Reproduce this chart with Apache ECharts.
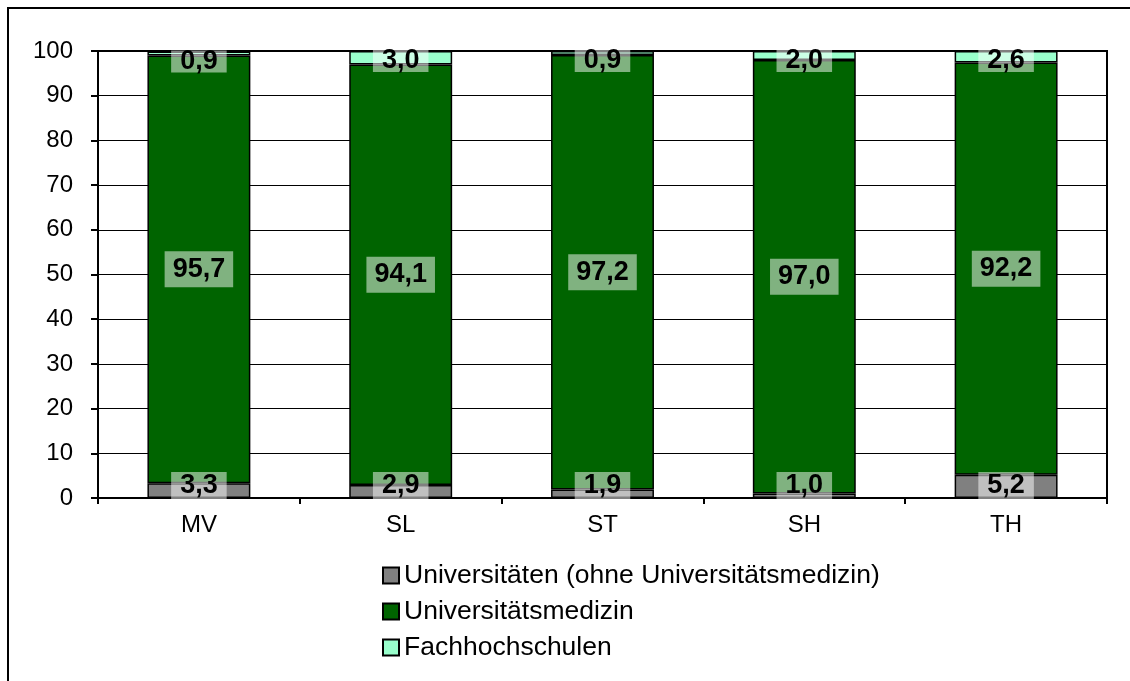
<!DOCTYPE html>
<html>
<head>
<meta charset="utf-8">
<script src="https://cdn.jsdelivr.net/npm/echarts@6/dist/echarts.min.js"></script>
<style>
html,body{margin:0;padding:0;background:#fff;}
#c{width:1130px;height:681px;}
</style>
</head>
<body>
<div id="c"></div>
<script>
const categories = ['MV', 'SL', 'ST', 'SH', 'TH'];
const universitaeten = [3.3, 2.9, 1.9, 1.0, 5.2];
const universitaetsmedizin = [95.7, 94.1, 97.2, 97.0, 92.2];
const fachhochschulen = [0.9, 3.0, 0.9, 2.0, 2.6];
const yTicks = [0, 10, 20, 30, 40, 50, 60, 70, 80, 90, 100];
const seriesNames = ['Universitäten (ohne Universitätsmedizin)', 'Universitätsmedizin', 'Fachhochschulen'];

const FONT = "'Liberation Sans', Arial, sans-serif";
const fmt = v => v.toFixed(1).replace('.', ',');

function labelStyle(pos, dist, lh, pad) {
  return {
    show: true,
    position: pos,
    distance: dist,
    formatter: p => fmt(p.value),
    fontFamily: FONT,
    fontWeight: 'bold',
    fontSize: 27,
    lineHeight: lh,
    color: '#000',
    backgroundColor: 'rgba(255,255,255,0.5)',
    padding: pad
  };
}

const chart = echarts.init(document.getElementById('c'), null, {renderer: 'canvas'});
chart.setOption({
  animation: false,
  backgroundColor: '#fff',
  textStyle: {fontFamily: FONT},
  graphic: [{
    type: 'rect', z: 100,
    shape: {x: 8, y: 8, width: 1200, height: 800},
    style: {fill: 'none', stroke: '#000', lineWidth: 2}
  }],
  grid: {left: 98, right: 23, top: 51, bottom: 183, show: true, borderColor: '#000', borderWidth: 2, containLabel: false},
  legend: {
    orient: 'vertical',
    left: 382,
    top: 562,
    padding: 0,
    itemWidth: 16,
    itemHeight: 16,
    itemGap: 9,
    icon: 'rect',
    textStyle: {fontFamily: FONT, fontSize: 26.5, lineHeight: 26, color: '#000'},
    data: seriesNames
  },
  xAxis: {
    type: 'category',
    data: categories,
    boundaryGap: true,
    axisLine: {lineStyle: {color: '#000', width: 2}},
    axisTick: {show: true, length: 6, lineStyle: {color: '#000', width: 2}},
    axisLabel: {fontFamily: FONT, fontSize: 24, color: '#000', margin: 15}
  },
  yAxis: {
    type: 'value',
    min: 0, max: 100, interval: 10,
    axisLine: {show: true, lineStyle: {color: '#000', width: 2}},
    axisTick: {show: true, length: 7, lineStyle: {color: '#000', width: 2}},
    axisLabel: {fontFamily: FONT, fontSize: 24, color: '#000', margin: 25,
      formatter: v => yTicks.includes(v) ? String(v) : ''},
    splitLine: {show: true, lineStyle: {color: '#000', width: 1}}
  },
  series: [
    {
      name: seriesNames[0], type: 'bar', stack: 's', barWidth: '51%',
      data: universitaeten,
      itemStyle: {color: '#808080', borderColor: '#000', borderWidth: 1.5},
      label: labelStyle('insideBottom', -2, 22, [3, 9, 3, 9])
    },
    {
      name: seriesNames[1], type: 'bar', stack: 's', barWidth: '51%',
      data: universitaetsmedizin,
      itemStyle: {color: '#006400', borderColor: '#000', borderWidth: 1.5},
      label: labelStyle('inside', 0, 26, [5, 8, 5, 8])
    },
    {
      name: seriesNames[2], type: 'bar', stack: 's', barWidth: '51%',
      data: fachhochschulen,
      itemStyle: {color: '#99ffcc', borderColor: '#000', borderWidth: 1.5},
      label: labelStyle('insideTop', -1, 20, [1, 9, 1, 9])
    }
  ]
});
</script>
</body>
</html>
